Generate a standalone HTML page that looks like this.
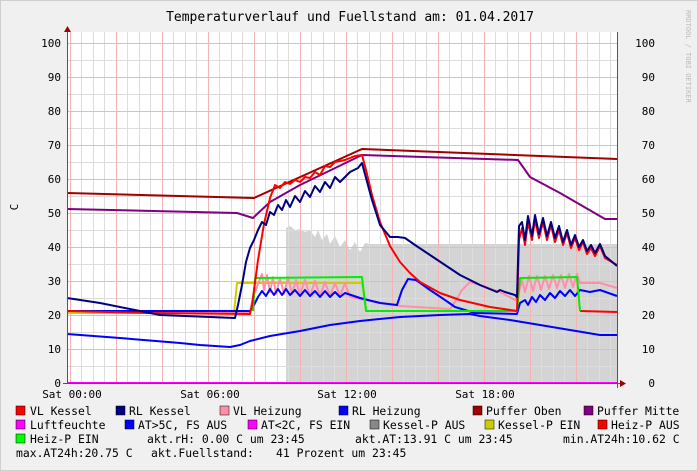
<!DOCTYPE html><html><head><style>body{margin:0;background:#f0f0f0}svg{display:block}text{font-family:"DejaVu Sans Mono","Liberation Mono",monospace;font-size:11px;fill:#000}.lg text{font-size:11.4px}</style></head><body>
<svg width="698" height="471" viewBox="0 0 698 471">
<rect x="0" y="0" width="698" height="471" fill="#f0f0f0"/>
<rect x="0.5" y="0.5" width="697" height="470" fill="none" stroke="#cfcfcf"/>
<rect x="67" y="32" width="550" height="351" fill="#fff"/>
<polygon fill="#d4d4d4" points="286,383 286,228 290,226 295,230 300,229 305,232 310,230 315,237 318,230 322,240 327,234 330,244 335,236 340,247 345,240 350,250 355,242 360,252 365,243 370,244 617,244 617,383"/>
<g stroke="#ddd" stroke-width="1">
<path d="M67,366.5H617M67,332.5H617M67,298.5H617M67,264.5H617M67,230.5H617M67,196.5H617M67,162.5H617M67,128.5H617M67,94.5H617M67,60.5H617"/>
<path d="M81.5,32V383M93.5,32V383M104.5,32V383M127.5,32V383M139.5,32V383M150.5,32V383M173.5,32V383M185.5,32V383M196.5,32V383M219.5,32V383M231.5,32V383M242.5,32V383M265.5,32V383M277.5,32V383M288.5,32V383M311.5,32V383M323.5,32V383M334.5,32V383M357.5,32V383M369.5,32V383M380.5,32V383M403.5,32V383M415.5,32V383M426.5,32V383M449.5,32V383M461.5,32V383M472.5,32V383M495.5,32V383M507.5,32V383M518.5,32V383M541.5,32V383M553.5,32V383M564.5,32V383M587.5,32V383M599.5,32V383M610.5,32V383"/>
</g>
<g stroke="#f2b4b4" stroke-width="1">
<path d="M67,349.5H617M67,315.5H617M67,281.5H617M67,247.5H617M67,213.5H617M67,179.5H617M67,145.5H617M67,111.5H617M67,77.5H617M67,43.5H617"/>
<path d="M70.5,32V383M116.5,32V383M162.5,32V383M208.5,32V383M254.5,32V383M300.5,32V383M346.5,32V383M392.5,32V383M438.5,32V383M484.5,32V383M530.5,32V383M576.5,32V383"/>
</g>
<g fill="none" stroke-width="2" stroke-linejoin="round">
<polyline stroke="#a00000" points="67,193 254,198 362,149 617,159"/>
<polyline stroke="#800080" points="67,209 237,213 253,218 270,202 300,185 362,155 518,160 523,167 530,177 560,193 605,219 617,219"/>
<polyline stroke="#0000ff" points="67,334 120,338 180,343 200,345 230,347 240,345 250,341 270,336 300,331 330,325 360,321 400,317 440,315 470,314 480,316 510,320 540,325 570,330 600,335 617,335"/>
<polyline stroke="#cccc00" points="67,313 234,313 237,283 362,283 366,308"/>
<polyline stroke="#ff8fa8" points="67,311 250,312 253,298 258,284 262,274 264,290 267,275 270,292 273,277 276,294 280,278 284,294 288,277 292,294 296,280 300,295 305,280 310,296 315,281 320,296 325,282 330,296 335,283 340,296 345,283 350,297 365,300 400,306 450,309 455,302 462,290 470,282 480,285 500,292 515,300 518,296 522,280 525,292 529,276 533,291 537,276 541,290 545,276 549,289 553,275 557,288 561,275 565,288 569,274 573,287 577,274 580,283 600,283 617,288"/>
<polyline stroke="#0000ff" points="67,311 250,311 254,305 258,297 262,291 266,296 270,289 274,295 278,289 282,295 286,289 290,295 295,290 300,296 305,290 310,296 315,291 320,297 325,291 330,297 335,292 340,297 345,293 360,298 380,303 397,305 402,290 408,279 416,280 430,290 445,300 455,307 475,313 517,314 520,303 525,300 528,305 532,297 536,302 540,295 545,300 550,293 555,298 560,291 565,296 570,290 575,296 580,290 590,292 600,290 617,296"/>
<polyline stroke="#ff0000" points="580,311 617,312"/>
<polyline stroke="#00ee00" points="253,311 255,278 362,277 366,311 517,311 520,278 577,277 580,311"/>
<polyline stroke="#ff0000" points="67,311 150,313 250,314 252,305 258,260 264,224 270,198 275,185 280,188 285,182 290,184 295,180 300,182 305,177 310,178 315,172 320,175 325,166 330,167 335,162 345,160 355,156 362,155 366,170 372,195 380,222 390,246 400,262 410,273 420,282 440,293 460,300 490,307 517,311 519,240 522,228 525,245 528,222 532,240 535,220 539,238 543,222 547,240 551,225 555,242 559,230 563,245 567,233 571,248 575,238 579,250 583,242 587,254 591,248 595,256 600,246 605,258 617,265"/>
<polyline stroke="#000080" points="67,298 100,303 160,315 235,318 238,305 242,285 246,262 250,248 254,240 258,230 262,222 266,225 270,212 274,215 278,205 282,210 286,200 290,207 295,196 300,202 305,191 310,197 315,186 320,192 325,182 330,188 335,177 340,182 350,172 358,168 362,163 366,178 372,200 380,225 390,237 398,237 405,238 415,245 430,255 445,265 460,275 480,285 497,292 500,290 505,292 515,295 517,297 519,226 522,222 525,240 528,216 532,236 535,215 539,234 543,218 547,236 551,222 555,238 559,226 563,242 567,230 571,245 575,235 579,247 583,240 587,251 591,245 595,253 600,244 605,256 617,266"/>
<polyline stroke="#ff00ff" points="67,383 617,383"/>
</g>
<path d="M67.5,28V384M617.5,32V388M63,383.5H621" stroke="#555" stroke-width="1"/>
<path d="M64,32L67.5,26L71,32Z M620,380L626,383.5L620,387Z" fill="#a00000"/>
<g text-anchor="end"><text x="61" y="47">100</text><text x="61" y="81">90</text><text x="61" y="115">80</text><text x="61" y="149">70</text><text x="61" y="183">60</text><text x="61" y="217">50</text><text x="61" y="251">40</text><text x="61" y="285">30</text><text x="61" y="319">20</text><text x="61" y="353">10</text><text x="61" y="387">0</text></g>
<g text-anchor="end"><text x="655" y="47">100</text><text x="655" y="81">90</text><text x="655" y="115">80</text><text x="655" y="149">70</text><text x="655" y="183">60</text><text x="655" y="217">50</text><text x="655" y="251">40</text><text x="655" y="285">30</text><text x="655" y="319">20</text><text x="655" y="353">10</text><text x="655" y="387">0</text></g>
<g text-anchor="middle"><text x="72" y="398">Sat 00:00</text><text x="210" y="398">Sat 06:00</text><text x="347" y="398">Sat 12:00</text><text x="485" y="398">Sat 18:00</text></g>
<text x="350" y="21" text-anchor="middle" style="font-size:13px">Temperaturverlauf und Fuellstand am: 01.04.2017</text>
<text transform="translate(18,207) rotate(-90)" text-anchor="middle">C</text>
<text transform="translate(686,10) rotate(90)" style="font-size:7px;fill:#bbb">RRDTOOL / TOBI OETIKER</text>
<g stroke="#000" stroke-width="0.5">
<rect x="16" y="406" width="9" height="9" fill="#ff0000"/><rect x="116" y="406" width="9" height="9" fill="#000080"/><rect x="220" y="406" width="9" height="9" fill="#ff8fa8"/><rect x="339" y="406" width="9" height="9" fill="#0000ff"/><rect x="473" y="406" width="9" height="9" fill="#a00000"/><rect x="584" y="406" width="9" height="9" fill="#800080"/>
<rect x="16" y="420" width="9" height="9" fill="#ff00ff"/><rect x="125" y="420" width="9" height="9" fill="#0000ff"/><rect x="248" y="420" width="9" height="9" fill="#ff00ff"/><rect x="370" y="420" width="9" height="9" fill="#888"/><rect x="485" y="420" width="9" height="9" fill="#cccc00"/><rect x="598" y="420" width="9" height="9" fill="#ff0000"/>
<rect x="16" y="434" width="9" height="9" fill="#00ff00"/>
</g>
<g class="lg">
<text x="30" y="415">VL Kessel</text><text x="129" y="415">RL Kessel</text><text x="233" y="415">VL Heizung</text><text x="352" y="415">RL Heizung</text><text x="486" y="415">Puffer Oben</text><text x="597" y="415">Puffer Mitte</text>
<text x="30" y="429">Luftfeuchte</text><text x="138" y="429">AT&gt;5C, FS AUS</text><text x="261" y="429">AT&lt;2C, FS EIN</text><text x="383" y="429">Kessel-P AUS</text><text x="498" y="429">Kessel-P EIN</text><text x="611" y="429">Heiz-P AUS</text>
<text x="30" y="443">Heiz-P EIN</text><text x="147" y="443">akt.rH: 0.00 C um 23:45</text><text x="355" y="443">akt.AT:13.91 C um 23:45</text><text x="563" y="443">min.AT24h:10.62 C</text>
<text x="16" y="457">max.AT24h:20.75 C</text><text x="151" y="457">akt.Fuellstand:</text><text x="276" y="457">41 Prozent um 23:45</text>
</g>
</svg></body></html>
